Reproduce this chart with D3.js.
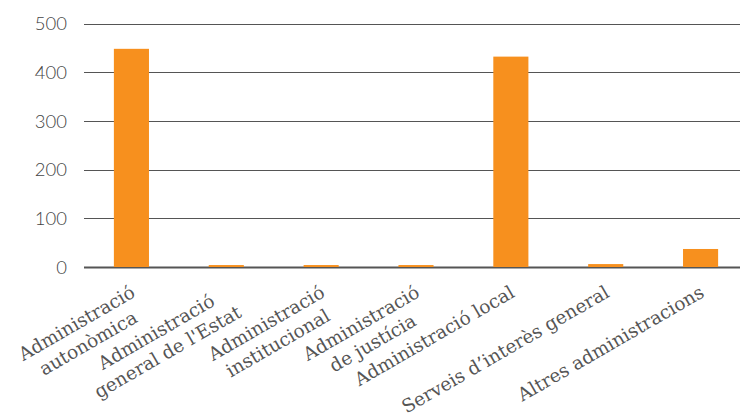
<!DOCTYPE html>
<html>
<head>
<meta charset="utf-8">
<script src="https://cdn.jsdelivr.net/npm/d3@7"></script>
<style>
  body { margin: 0; background: #fff; }
  .ytick text { font-family: Lato, "Open Sans", sans-serif; font-weight: 300; font-size: 18.5px; fill: #444; }
  .xlab { font-family: "DejaVu Serif", serif; font-size: 18.5px; fill: #555; }
</style>
</head>
<body>
<div id="chart"></div>
<script>
let categories = [
    ["Administració", "autonòmica"],
    ["Administració", "general de l'Estat"],
    ["Administració", "institucional"],
    ["Administració", "de justícia"],
    ["Administració local"],
    ["Serveis d’interès general"],
    ["Altres administracions"]
];
let values = [448, 4, 4, 4, 432, 6, 37];
let yTicks = [0, 100, 200, 300, 400, 500];

let width = 740, height = 420;
let margin = {top: 23.5, left: 84, bottom: 153, right: -8};

let svg = d3.select("#chart")
    .append("svg")
    .attr("width", width)
    .attr("height", height);

let x = d3.scaleBand()
    .domain(d3.range(categories.length))
    .range([margin.left, width - margin.right])
    .paddingInner(0.63)
    .paddingOuter(0.315);

let y = d3.scaleLinear()
    .domain([0, 500])
    .range([height - margin.bottom, margin.top]);

// grid
let grid = svg.append("g").attr("class", "ytick");
grid.selectAll("line")
    .data(yTicks.filter(d => d > 0))
    .enter()
    .append("line")
    .attr("x1", margin.left)
    .attr("x2", width)
    .attr("y1", d => Math.round(y(d)) + 0.5)
    .attr("y2", d => Math.round(y(d)) + 0.5)
    .attr("stroke", "#555")
    .attr("stroke-width", 1);

grid.selectAll("text")
    .data(yTicks)
    .enter()
    .append("text")
    .attr("x", 67)
    .attr("y", d => y(d))
    .attr("dy", "0.36em")
    .attr("text-anchor", "end")
    .text(d => d);

// baseline (under the bars, so the tiny ones still show)
svg.append("line")
    .attr("x1", margin.left)
    .attr("x2", width)
    .attr("y1", y(0) + 0.5)
    .attr("y2", y(0) + 0.5)
    .attr("stroke", "#555")
    .attr("stroke-width", 2);

// bars
svg.selectAll(".bar")
    .data(values)
    .enter()
    .append("rect")
    .attr("class", "bar")
    .attr("x", (d, i) => x(i))
    .attr("width", x.bandwidth())
    .attr("y", d => y(d))
    .attr("height", d => y(0) - y(d))
    .attr("fill", "#F7901E");

// rotated category labels
let labels = svg.selectAll(".xlab")
    .data(categories)
    .enter()
    .append("g")
    .attr("class", "xlab")
    .attr("transform", (d, i) => "translate(" + (x(i) + x.bandwidth() / 2 + 5) + "," + 296 + ") rotate(-30)");

labels.each(function (lines) {
    let g = d3.select(this);
    let texts = g.selectAll("text")
        .data(lines)
        .enter()
        .append("text")
        .attr("text-anchor", "middle")
        .attr("y", (d, i) => i * 23)
        .text(d => d);
    let w = d3.max(texts.nodes(), n => n.getComputedTextLength());
    texts.attr("x", -w / 2);
});
</script>
</body>
</html>
